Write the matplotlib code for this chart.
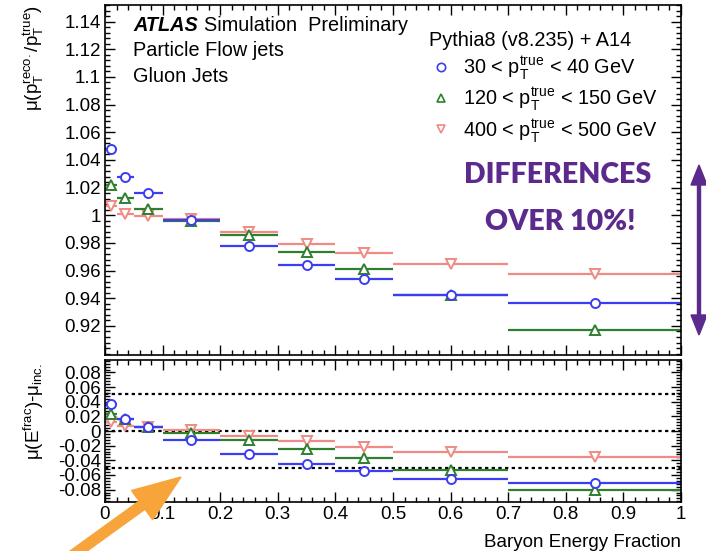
import numpy as np
import matplotlib.pyplot as plt
from matplotlib.patches import FancyArrow
from matplotlib.ticker import MultipleLocator, FormatStrFormatter
from matplotlib.lines import Line2D

plt.rcParams["font.family"] = ["Liberation Sans", "DejaVu Sans"]
plt.rcParams["mathtext.default"] = "regular"
plt.rcParams["font.size"] = 13.5

edges = np.array([0, 0.02, 0.05, 0.1, 0.2, 0.3, 0.4, 0.5, 0.7, 1.0])

labels = [
    r"30 < $p_{T}^{true}$ < 40 GeV",
    r"120 < $p_{T}^{true}$ < 150 GeV",
    r"400 < $p_{T}^{true}$ < 500 GeV",
]
colors = ["#3c3cf2", "#2f7f2f", "#f08a84"]
markers = ["o", "^", "v"]

resp_30 = [1.0477, 1.0275, 1.0161, 0.9969, 0.9776, 0.9638, 0.9539, 0.9427, 0.9364]
resp_120 = [1.0217, 1.0125, 1.0048, 0.9959, 0.9855, 0.9738, 0.9612, 0.9427, 0.9168]
resp_400 = [1.0065, 1.0012, 0.9993, 0.9971, 0.9879, 0.9795, 0.9727, 0.9648, 0.9578]

diff_30 = [0.037, 0.017, 0.006, -0.0123, -0.0315, -0.045, -0.054, -0.066, -0.0717]
diff_120 = [0.023, 0.0164, 0.005, -0.003, -0.012, -0.024, -0.0365, -0.053, -0.080]
diff_400 = [0.0128, 0.0068, 0.005, 0.0014, -0.0068, -0.013, -0.0215, -0.028, -0.0356]

resp = [resp_30, resp_120, resp_400]
diff = [diff_30, diff_120, diff_400]

centers = 0.5 * (edges[1:] + edges[:-1])
halfw = 0.5 * (edges[1:] - edges[:-1])

fig = plt.figure(figsize=(7.06, 5.51), dpi=100)
ax1 = fig.add_axes([0.1487, 0.3557, 0.8159, 0.6352])
ax2 = fig.add_axes([0.1487, 0.0889, 0.8159, 0.2577])

# draw high-pt first so the low-pt series sit on top
for i in [2, 1, 0]:
    for ax, vals in [(ax1, resp[i]), (ax2, diff[i])]:
        ax.errorbar(
            centers, vals, xerr=halfw,
            fmt=markers[i], color=colors[i], mfc="white", mec=colors[i],
            ms=6.5, mew=1.4, elinewidth=1.6, capsize=0,
        )

for yy in [0.05, 0, -0.05]:
    ax2.axhline(yy, color="k", ls=(0, (1.5, 1.5)), lw=1.6, zorder=0)

ax1.set_xlim(0, 1)
ax2.set_xlim(0, 1)
ax1.set_ylim(0.899, 1.152)
ax2.set_ylim(-0.097, 0.097)

ax1.set_yticks(np.arange(0.92, 1.141, 0.02))
ax1.yaxis.set_minor_locator(MultipleLocator(0.004))
ax1.yaxis.set_major_formatter(FormatStrFormatter("%g"))
ax2.set_yticks(np.arange(-0.08, 0.081, 0.02))
ax2.yaxis.set_minor_locator(MultipleLocator(0.004))
ax2.set_yticklabels(["%g" % v if abs(v) > 1e-9 else "0" for v in np.arange(-0.08, 0.081, 0.02)])
for ax in (ax1, ax2):
    ax.xaxis.set_major_locator(MultipleLocator(0.1))
    ax.xaxis.set_minor_locator(MultipleLocator(0.02))
    ax.tick_params(which="both", direction="in", top=True, right=True, labelsize=13.5, pad=3)
    ax.tick_params(which="major", length=7, width=1)
    ax.tick_params(which="minor", length=3.5, width=1)
    for s in ax.spines.values():
        s.set_linewidth(1.2)
ax1.tick_params(labelbottom=False)
ax2.xaxis.set_major_formatter(FormatStrFormatter("%g"))

ax1.set_ylabel(r"μ($p_{T}^{reco.}$/$p_{T}^{true}$)", loc="top", fontsize=13.5)
ax1.yaxis.set_label_coords(-0.102, 1.0)
ax2.set_ylabel(r"μ($E^{frac}$)-$μ_{inc.}$", loc="top", fontsize=13.5)
ax2.yaxis.set_label_coords(-0.102, 0.98)
ax2.set_xlabel("Baryon Energy Fraction", loc="right", fontsize=13.5, labelpad=8)

ax1.text(0.049, 0.925, "ATLAS", transform=ax1.transAxes, fontsize=14.3,
         fontweight="bold", fontstyle="italic")
ax1.text(0.172, 0.925, "Simulation  Preliminary", transform=ax1.transAxes, fontsize=14.3)
ax1.text(0.049, 0.853, "Particle Flow jets", transform=ax1.transAxes, fontsize=14.3)
ax1.text(0.049, 0.781, "Gluon Jets", transform=ax1.transAxes, fontsize=14.3)

handles = [
    Line2D([], [], ls="none", marker=markers[i], mfc="white", mec=colors[i], ms=6, mew=1.2)
    for i in range(3)
]
leg = ax1.legend(
    handles, labels, title="Pythia8 (v8.235) + A14", loc="upper left",
    bbox_to_anchor=(0.545, 0.955), frameon=False, fontsize=14.3, title_fontsize=14.3,
    handletextpad=0.5, handlelength=1.2, labelspacing=0.22, borderpad=0,
    alignment="left",
)

# annotations drawn in inch coordinates (pixels / 100)
def px(x, y):
    return x / 100.0, (551 - y) / 100.0

purple = "#5b2a8c"
fig.text(558 / 706, 1 - 175 / 551, "DIFFERENCES", color=purple, fontsize=20.5,
         fontweight="heavy", family=["Lato", "DejaVu Sans"], ha="center", va="center")
fig.text(560 / 706, 1 - 222 / 551, "OVER 10%!", color=purple, fontsize=20.5,
         fontweight="heavy", family=["Lato", "DejaVu Sans"], ha="center", va="center")

mx, my = px(699, 250)
for dy in (0.85, -0.85):
    fig.add_artist(FancyArrow(mx, my, 0, dy, width=0.03, head_width=0.16,
                              head_length=0.2, length_includes_head=True,
                              color=purple, transform=fig.dpi_scale_trans))

ox, oy = px(62, 563)
tx, ty = px(181, 477)
fig.add_artist(FancyArrow(ox, oy, tx - ox, ty - oy, width=0.10, head_width=0.36,
                          head_length=0.48, length_includes_head=True,
                          color="#f7a43b", transform=fig.dpi_scale_trans))

fig.savefig("out.png", dpi=100)
